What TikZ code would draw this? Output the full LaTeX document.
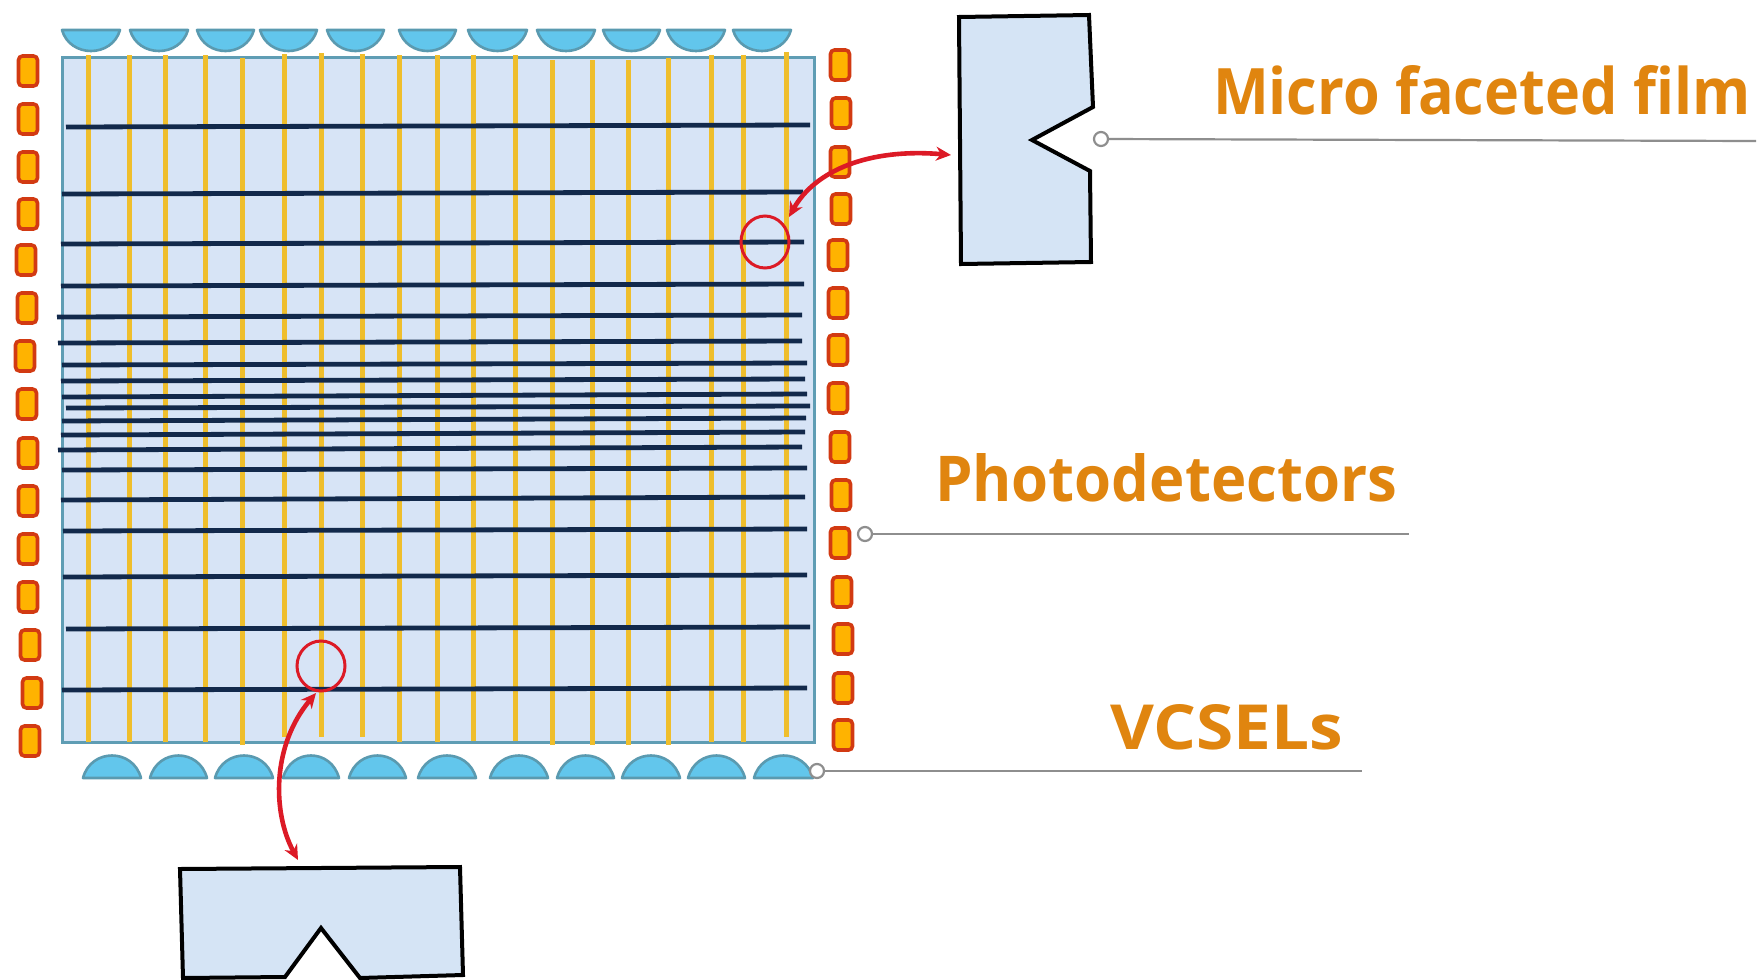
\documentclass[tikz,border=0pt]{standalone}
\usepackage{fontspec}
\usepackage{graphicx}
\setmainfont{Open Sans}
\usetikzlibrary{arrows.meta,shapes.geometric}
\definecolor{panelfill}{HTML}{D7E4F6}
\definecolor{panelline}{HTML}{5F9DB4}
\definecolor{lensfill}{HTML}{62C6EC}
\definecolor{lensline}{HTML}{5A9AB0}
\definecolor{fibre}{HTML}{EFBE2C}
\definecolor{wire}{HTML}{12294B}
\definecolor{chipfill}{HTML}{FFB300}
\definecolor{chipline}{HTML}{D23A12}
\definecolor{redmark}{HTML}{DC1A26}
\definecolor{labeltext}{HTML}{E0850F}
\definecolor{leader}{HTML}{8E8E8E}
\definecolor{facetfill}{HTML}{D5E4F5}
\tikzset{
  panelbox/.style={draw=panelline,fill=panelfill,line width=3pt},
  lens/.style={draw=lensline,fill=lensfill,line width=2.6pt,line join=round},
  fibreline/.style={draw=fibre,line width=5pt},
  wireline/.style={draw=wire,line width=4.8pt},
  chip/.style={draw=chipline,fill=chipfill,line width=3.6pt,rounded corners=4pt,minimum width=19pt,minimum height=30pt,inner sep=0pt},
  ringmark/.style={draw=redmark,line width=3pt,ellipse,inner sep=0pt},
  redarrow/.style={draw=redmark,line width=4.6pt,{Stealth[length=15pt,width=14pt]}-{Stealth[length=15pt,width=14pt]}},
  facet/.style={draw=black,fill=facetfill,line width=4pt,line join=miter},
  leaderline/.style={draw=leader,line width=2.2pt},
  leaderdot/.style={circle,draw=leader,fill=white,line width=2.2pt,minimum size=14pt,inner sep=0pt},
  tag/.style={text=labeltext,font=\bfseries,anchor=base west,inner sep=0pt,outer sep=0pt},
}
\begin{document}
\begin{tikzpicture}[x=1pt,y=-1pt]
\useasboundingbox (0,0) rectangle (1757,980);
\fill[white] (0,0) rectangle (1757,980);

% panel
\draw[panelbox] (62,57) rectangle (814,742);

% top lenses
\foreach \a/\b in {62/120,130/188,197/254,260/317,327/384,399/456,468/527,537/595,603/660,667/725,733/791}
  \draw[lens] (\a,30) .. controls ({\a+8},58) and ({\b-8},58) .. (\b,30) -- cycle;
% bottom lenses
\foreach \a/\b in {83/141,150/207,215/273,283/339,349/406,418/476,490/548,557/614,622/680,688/745,754/813}
  \draw[lens] (\a,778) .. controls ({\a+8},748) and ({\b-8},748) .. (\b,778) -- cycle;

% vertical fibres
\foreach \x/\t/\e in {88/55/742,129/55/742,165/55/742,205/55/742,242/58/745,284/54/737,321/53/737,362/54/737,399/55/742,437/55/742,473/55/741,515/55/741,552/60/745,592/60/745,628/60/745,668/58/745,711/55/742,743/55/742,786/52/737}
  \draw[fibreline] (\x,\t) -- (\x,\e);

% horizontal wires
\foreach \xa/\ya/\xb/\yb in {66/127/810/125,62/194/803/192,61/244/804/242,61/286/804/284,57/317/802/315,58/343/802/341,62/365/807/363,61/381/805/379,62/397/807/394,66/408/810/406,62/421/806/418,61/435/805/432,58/450/802/447,62/470/807/468,61/500/805/497,63/531/807/529,63/577/807/575,66/629/810/627,62/690/807/688}
  \draw[wireline] (\xa,\ya) -- (\xb,\yb);

% chips
\foreach \x/\y [count=\i] in {28/71,28/119,28/167,28/214,26/260,27/308,25/356,27/404,28/453,28/501,28/549,28/597,30/645,32/693,30/741}
  \node[chip] (left\i) at (\x,\y) {};
\foreach \x/\y [count=\i] in {840/65,841/113,840/162,841/209,838/255,838/303,838/350,838/398,840/447,841/495,840/543,842/592,843/639,843/688,843/735}
  \node[chip] (right\i) at (\x,\y) {};

% magnified facets
\draw[facet] (959,17) -- (1089,15) -- (1093,107) -- (1032,140) -- (1090,171) -- (1091,262) -- (961,264) -- cycle;
\draw[facet] (180,869) -- (460,867) -- (463,975) -- (360,978) -- (321,928) -- (285,977) -- (183,978) -- cycle;

% rings
\node[ringmark,minimum width=48pt,minimum height=52pt] (ringa) at (765,242) {};
\node[ringmark,minimum width=48pt,minimum height=50pt] (ringb) at (321,666) {};

% red arrows
\coordinate (facetaend) at (951,155);
\coordinate (ringaend) at (789,217);
\coordinate (facetbend) at (298,860);
\coordinate (ringbend) at (316,693);
\draw[redarrow] (facetaend) .. controls (870,148) and (815,170) .. (ringaend);
\draw[redarrow] (facetbend) .. controls (272,812) and (272,745) .. (ringbend);

% leaders
\node[leaderdot] (dota) at (1101,139) {};
\coordinate (enda) at (1756,141);
\draw[leaderline] (dota) -- (enda);
\node[leaderdot] (dotb) at (865,534) {};
\coordinate (endb) at (1409,534);
\draw[leaderline] (dotb) -- (endb);
\node[leaderdot] (dotc) at (817,771) {};
\coordinate (endc) at (1362,771);
\draw[leaderline] (dotc) -- (endc);

% labels
\node[tag] (micro) at (1213,114) {\resizebox{537pt}{49pt}{Micro faceted film}};
\node[tag] (photo) at (935,501) {\resizebox{462pt}{48pt}{Photodetectors}};
\node[tag] (vcsel) at (1110,749) {\resizebox{233pt}{45pt}{VCSELs}};
\end{tikzpicture}
\end{document}
